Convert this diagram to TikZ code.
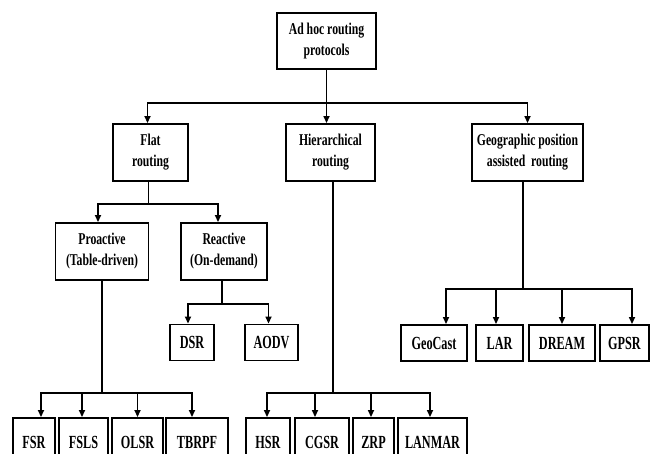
\documentclass[tikz,border=0pt]{standalone}
\usepackage{fontspec}
\setmainfont{Liberation Serif}[FakeStretch=0.71]
\newfontfamily\leaffont{Liberation Serif}[FakeStretch=0.66]
\usetikzlibrary{arrows.meta,calc}
\begin{document}
\begin{tikzpicture}[x=1pt,y=-1pt,
  box/.style={draw=black, line width=1.9pt, fill=white, inner sep=0pt, align=center,
    font=\fontsize{16.5}{21}\selectfont\bfseries},
  leaf/.style={box, minimum height=36pt, font=\leaffont\fontsize{18.5}{21}\selectfont\bfseries},
  bottomleaf/.style={leaf, minimum height=48pt},
  conn/.style={line width=1.6pt, draw=black},
  arr/.style={conn, -{Triangle[length=7pt,width=6pt]}},
]
\useasboundingbox (0,0) rectangle (652,453);
\clip (0,0) rectangle (652,453);
\fill[white] (0,0) rectangle (652,453);

% level 0 and 1
\node[box, minimum width=99pt, minimum height=56pt] (root) at (326.5,41) {Ad hoc routing\\protocols};
\node[box, minimum width=75pt, minimum height=57pt] (flat) at (150.5,152.5) {Flat\\routing};
\node[box, minimum width=89pt, minimum height=57pt] (hier) at (330.5,152.5) {Hierarchical\\routing};
\node[box, minimum width=111pt, minimum height=57pt] (geo) at (527.5,152.5) {Geographic position\\assisted\ \ routing};

% level 2
\node[box, minimum width=93pt, minimum height=57pt] (pro) at (102,251.5) {Proactive\\(Table-driven)};
\node[box, minimum width=86pt, minimum height=57pt] (rea) at (224,251.5) {Reactive\\(On-demand)};

% reactive leaves
\node[leaf, minimum width=44pt] (dsr) at (192,342.5) {DSR};
\node[leaf, minimum width=53pt] (aodv) at (271.5,342.5) {AODV};

% geographic leaves
\node[leaf, minimum width=66pt] (geocast) at (434,343) {GeoCast};
\node[leaf, minimum width=47pt] (lar) at (499.5,343) {LAR};
\node[leaf, minimum width=66pt] (dream) at (562,343) {DREAM};
\node[leaf, minimum width=49pt] (gpsr) at (624.5,343) {GPSR};

% proactive leaves
\node[bottomleaf, minimum width=42pt] (fsr) at (34,442) {FSR};
\node[bottomleaf, minimum width=49pt] (fsls) at (83.5,442) {FSLS};
\node[bottomleaf, minimum width=51pt] (olsr) at (137.5,442) {OLSR};
\node[bottomleaf, minimum width=62pt] (tbrpf) at (197,442) {TBRPF};

% hierarchical leaves
\node[bottomleaf, minimum width=44pt] (hsr) at (268,442) {HSR};
\node[bottomleaf, minimum width=54pt] (cgsr) at (322,442) {CGSR};
\node[bottomleaf, minimum width=41pt] (zrp) at (373.5,442) {ZRP};
\node[bottomleaf, minimum width=69pt] (lanmar) at (432.5,442) {LANMAR};

% root connectors
\coordinate (b0) at ($(root.south)+(0,33)$);
\draw[arr] (root.south) -- (root.south |- hier.north);
\draw[arr] (b0) -| ([xshift=-3pt]flat.north);
\draw[arr] (b0) -| (geo.north);

% flat
\draw[conn] ([xshift=-2pt]flat.south) -- ++(0,22) coordinate (b1);
\draw[arr] (b1) -| ([xshift=-4pt]pro.north);
\draw[arr] (b1) -| ([xshift=-6pt]rea.north);

% reactive
\draw[conn] ([xshift=-2pt]rea.south) -- ++(0,23) coordinate (b2);
\draw[arr] (b2) -| ([xshift=-4pt]dsr.north);
\draw[arr] (b2) -| ([xshift=-3pt]aodv.north);

% proactive
\draw[conn] (pro.south) -- ++(0,112) coordinate (b3);
\draw[arr] (b3) -| ([xshift=7pt]fsr.north);
\draw[arr] (b3) -| ([xshift=-1.5pt]fsls.north);
\draw[arr] (b3) -| (olsr.north);
\draw[arr] (b3) -| ([xshift=-5pt]tbrpf.north);

% hierarchical
\draw[conn] ([xshift=2.5pt]hier.south) -- ++(0,211) coordinate (b4);
\draw[arr] (b4) -| ([xshift=-1pt]hsr.north);
\draw[arr] (b4) -| ([xshift=-7pt]cgsr.north);
\draw[arr] (b4) -| ([xshift=-2.5pt]zrp.north);
\draw[arr] (b4) -| ([xshift=-2.5pt]lanmar.north);

% geographic
\draw[conn] ([xshift=-4.5pt]geo.south) -- ++(0,107) coordinate (b5);
\draw[arr] (b5) -| ([xshift=12pt]geocast.north);
\draw[arr] (b5) -| ([xshift=-3.5pt]lar.north);
\draw[arr] (b5) -| (dream.north);
\draw[arr] (b5) -| ([xshift=7.5pt]gpsr.north);
\end{tikzpicture}
\end{document}
